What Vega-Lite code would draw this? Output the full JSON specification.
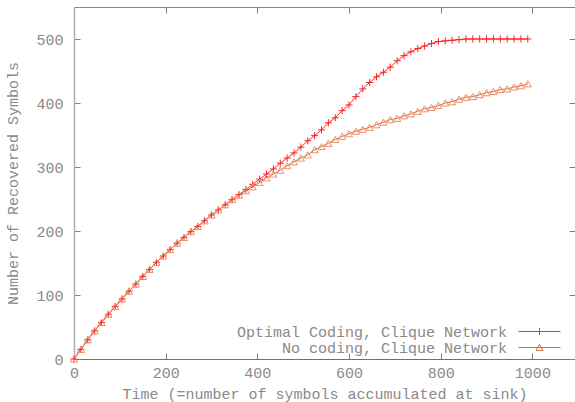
{
  "$schema": "https://vega.github.io/schema/vega-lite/v6.json",
  "width": 501,
  "height": 352,
  "autosize": "none",
  "padding": {"left": 74, "top": 7, "right": 0, "bottom": 43},
  "background": "white",
  "config": {
    "view": {"stroke": null},
    "font": "Liberation Mono",
    "axis": {
      "grid": false,
      "labelFont": "Liberation Mono",
      "labelFontSize": 15,
      "labelColor": "#8a8a8a",
      "titleFont": "Liberation Mono",
      "titleFontSize": 15,
      "titleFontWeight": "normal",
      "titleColor": "#8a8a8a",
      "tickColor": "#808080",
      "labelFlush": false,
      "labelOverlap": false
    }
  },
  "data": {
    "values": [
      {"t": 0, "n": 0, "s": "Optimal Coding, Clique Network"},
      {"t": 15, "n": 15, "s": "Optimal Coding, Clique Network"},
      {"t": 30, "n": 30, "s": "Optimal Coding, Clique Network"},
      {"t": 45, "n": 44, "s": "Optimal Coding, Clique Network"},
      {"t": 60, "n": 57, "s": "Optimal Coding, Clique Network"},
      {"t": 75, "n": 70, "s": "Optimal Coding, Clique Network"},
      {"t": 90, "n": 82, "s": "Optimal Coding, Clique Network"},
      {"t": 105, "n": 94, "s": "Optimal Coding, Clique Network"},
      {"t": 120, "n": 106, "s": "Optimal Coding, Clique Network"},
      {"t": 135, "n": 117, "s": "Optimal Coding, Clique Network"},
      {"t": 150, "n": 129, "s": "Optimal Coding, Clique Network"},
      {"t": 165, "n": 140, "s": "Optimal Coding, Clique Network"},
      {"t": 180, "n": 151, "s": "Optimal Coding, Clique Network"},
      {"t": 195, "n": 161, "s": "Optimal Coding, Clique Network"},
      {"t": 210, "n": 171, "s": "Optimal Coding, Clique Network"},
      {"t": 225, "n": 181, "s": "Optimal Coding, Clique Network"},
      {"t": 240, "n": 190, "s": "Optimal Coding, Clique Network"},
      {"t": 255, "n": 199, "s": "Optimal Coding, Clique Network"},
      {"t": 270, "n": 207, "s": "Optimal Coding, Clique Network"},
      {"t": 285, "n": 216, "s": "Optimal Coding, Clique Network"},
      {"t": 300, "n": 225, "s": "Optimal Coding, Clique Network"},
      {"t": 315, "n": 233, "s": "Optimal Coding, Clique Network"},
      {"t": 330, "n": 241, "s": "Optimal Coding, Clique Network"},
      {"t": 345, "n": 249, "s": "Optimal Coding, Clique Network"},
      {"t": 360, "n": 257, "s": "Optimal Coding, Clique Network"},
      {"t": 375, "n": 265, "s": "Optimal Coding, Clique Network"},
      {"t": 390, "n": 273, "s": "Optimal Coding, Clique Network"},
      {"t": 405, "n": 281, "s": "Optimal Coding, Clique Network"},
      {"t": 420, "n": 289, "s": "Optimal Coding, Clique Network"},
      {"t": 435, "n": 297, "s": "Optimal Coding, Clique Network"},
      {"t": 450, "n": 306, "s": "Optimal Coding, Clique Network"},
      {"t": 465, "n": 314, "s": "Optimal Coding, Clique Network"},
      {"t": 480, "n": 322, "s": "Optimal Coding, Clique Network"},
      {"t": 495, "n": 331, "s": "Optimal Coding, Clique Network"},
      {"t": 510, "n": 341, "s": "Optimal Coding, Clique Network"},
      {"t": 525, "n": 349, "s": "Optimal Coding, Clique Network"},
      {"t": 540, "n": 358, "s": "Optimal Coding, Clique Network"},
      {"t": 555, "n": 369, "s": "Optimal Coding, Clique Network"},
      {"t": 570, "n": 377, "s": "Optimal Coding, Clique Network"},
      {"t": 585, "n": 388, "s": "Optimal Coding, Clique Network"},
      {"t": 600, "n": 397, "s": "Optimal Coding, Clique Network"},
      {"t": 615, "n": 410, "s": "Optimal Coding, Clique Network"},
      {"t": 630, "n": 422, "s": "Optimal Coding, Clique Network"},
      {"t": 645, "n": 432, "s": "Optimal Coding, Clique Network"},
      {"t": 660, "n": 441, "s": "Optimal Coding, Clique Network"},
      {"t": 675, "n": 448, "s": "Optimal Coding, Clique Network"},
      {"t": 690, "n": 456, "s": "Optimal Coding, Clique Network"},
      {"t": 705, "n": 466, "s": "Optimal Coding, Clique Network"},
      {"t": 720, "n": 474, "s": "Optimal Coding, Clique Network"},
      {"t": 735, "n": 480, "s": "Optimal Coding, Clique Network"},
      {"t": 750, "n": 485, "s": "Optimal Coding, Clique Network"},
      {"t": 765, "n": 489, "s": "Optimal Coding, Clique Network"},
      {"t": 780, "n": 493, "s": "Optimal Coding, Clique Network"},
      {"t": 795, "n": 496, "s": "Optimal Coding, Clique Network"},
      {"t": 810, "n": 497, "s": "Optimal Coding, Clique Network"},
      {"t": 825, "n": 498, "s": "Optimal Coding, Clique Network"},
      {"t": 840, "n": 499, "s": "Optimal Coding, Clique Network"},
      {"t": 855, "n": 500, "s": "Optimal Coding, Clique Network"},
      {"t": 870, "n": 500, "s": "Optimal Coding, Clique Network"},
      {"t": 885, "n": 500, "s": "Optimal Coding, Clique Network"},
      {"t": 900, "n": 500, "s": "Optimal Coding, Clique Network"},
      {"t": 915, "n": 500, "s": "Optimal Coding, Clique Network"},
      {"t": 930, "n": 500, "s": "Optimal Coding, Clique Network"},
      {"t": 945, "n": 500, "s": "Optimal Coding, Clique Network"},
      {"t": 960, "n": 500, "s": "Optimal Coding, Clique Network"},
      {"t": 975, "n": 500, "s": "Optimal Coding, Clique Network"},
      {"t": 990, "n": 500, "s": "Optimal Coding, Clique Network"},
      {"t": 0, "n": 0, "s": "No coding, Clique Network"},
      {"t": 15, "n": 15, "s": "No coding, Clique Network"},
      {"t": 30, "n": 30, "s": "No coding, Clique Network"},
      {"t": 45, "n": 44, "s": "No coding, Clique Network"},
      {"t": 60, "n": 57, "s": "No coding, Clique Network"},
      {"t": 75, "n": 70, "s": "No coding, Clique Network"},
      {"t": 90, "n": 82, "s": "No coding, Clique Network"},
      {"t": 105, "n": 94, "s": "No coding, Clique Network"},
      {"t": 120, "n": 106, "s": "No coding, Clique Network"},
      {"t": 135, "n": 117, "s": "No coding, Clique Network"},
      {"t": 150, "n": 129, "s": "No coding, Clique Network"},
      {"t": 165, "n": 140, "s": "No coding, Clique Network"},
      {"t": 180, "n": 151, "s": "No coding, Clique Network"},
      {"t": 195, "n": 161, "s": "No coding, Clique Network"},
      {"t": 210, "n": 171, "s": "No coding, Clique Network"},
      {"t": 225, "n": 181, "s": "No coding, Clique Network"},
      {"t": 240, "n": 190, "s": "No coding, Clique Network"},
      {"t": 255, "n": 199, "s": "No coding, Clique Network"},
      {"t": 270, "n": 207, "s": "No coding, Clique Network"},
      {"t": 285, "n": 216, "s": "No coding, Clique Network"},
      {"t": 300, "n": 225, "s": "No coding, Clique Network"},
      {"t": 315, "n": 233, "s": "No coding, Clique Network"},
      {"t": 330, "n": 241, "s": "No coding, Clique Network"},
      {"t": 345, "n": 249, "s": "No coding, Clique Network"},
      {"t": 360, "n": 256, "s": "No coding, Clique Network"},
      {"t": 375, "n": 263, "s": "No coding, Clique Network"},
      {"t": 390, "n": 269, "s": "No coding, Clique Network"},
      {"t": 405, "n": 276, "s": "No coding, Clique Network"},
      {"t": 420, "n": 283, "s": "No coding, Clique Network"},
      {"t": 435, "n": 289, "s": "No coding, Clique Network"},
      {"t": 450, "n": 295, "s": "No coding, Clique Network"},
      {"t": 465, "n": 302, "s": "No coding, Clique Network"},
      {"t": 480, "n": 308, "s": "No coding, Clique Network"},
      {"t": 495, "n": 314, "s": "No coding, Clique Network"},
      {"t": 510, "n": 319, "s": "No coding, Clique Network"},
      {"t": 525, "n": 327, "s": "No coding, Clique Network"},
      {"t": 540, "n": 332, "s": "No coding, Clique Network"},
      {"t": 555, "n": 337, "s": "No coding, Clique Network"},
      {"t": 570, "n": 343, "s": "No coding, Clique Network"},
      {"t": 585, "n": 348, "s": "No coding, Clique Network"},
      {"t": 600, "n": 352, "s": "No coding, Clique Network"},
      {"t": 615, "n": 356, "s": "No coding, Clique Network"},
      {"t": 630, "n": 359, "s": "No coding, Clique Network"},
      {"t": 645, "n": 362, "s": "No coding, Clique Network"},
      {"t": 660, "n": 366, "s": "No coding, Clique Network"},
      {"t": 675, "n": 370, "s": "No coding, Clique Network"},
      {"t": 690, "n": 374, "s": "No coding, Clique Network"},
      {"t": 705, "n": 376, "s": "No coding, Clique Network"},
      {"t": 720, "n": 380, "s": "No coding, Clique Network"},
      {"t": 735, "n": 383, "s": "No coding, Clique Network"},
      {"t": 750, "n": 387, "s": "No coding, Clique Network"},
      {"t": 765, "n": 391, "s": "No coding, Clique Network"},
      {"t": 780, "n": 393, "s": "No coding, Clique Network"},
      {"t": 795, "n": 396, "s": "No coding, Clique Network"},
      {"t": 810, "n": 400, "s": "No coding, Clique Network"},
      {"t": 825, "n": 402, "s": "No coding, Clique Network"},
      {"t": 840, "n": 406, "s": "No coding, Clique Network"},
      {"t": 855, "n": 409, "s": "No coding, Clique Network"},
      {"t": 870, "n": 410, "s": "No coding, Clique Network"},
      {"t": 885, "n": 413, "s": "No coding, Clique Network"},
      {"t": 900, "n": 416, "s": "No coding, Clique Network"},
      {"t": 915, "n": 418, "s": "No coding, Clique Network"},
      {"t": 930, "n": 421, "s": "No coding, Clique Network"},
      {"t": 945, "n": 422, "s": "No coding, Clique Network"},
      {"t": 960, "n": 425, "s": "No coding, Clique Network"},
      {"t": 975, "n": 427, "s": "No coding, Clique Network"},
      {"t": 990, "n": 430, "s": "No coding, Clique Network"}
    ]
  },
  "resolve": {"scale": {"x": "independent", "y": "independent"}},
  "layer": [
    {
      "mark": {"type": "line", "strokeWidth": 1, "clip": false},
      "encoding": {
        "x": {
          "field": "t", "type": "quantitative",
          "scale": {"domain": [0, 1093], "nice": false, "zero": false},
          "axis": {
            "orient": "bottom",
            "values": [0, 200, 400, 600, 800, 1000],
            "format": "d",
            "title": "Time (=number of symbols accumulated at sink)",
            "tickSize": -6,
            "labelPadding": 12,
            "labelDx": 3,
            "domainColor": "#707070",
            "titleY": 39,
            "titleBaseline": "alphabetic"
          }
        },
        "y": {
          "field": "n", "type": "quantitative",
          "scale": {"domain": [0, 550], "nice": false, "zero": false},
          "axis": {
            "orient": "left",
            "values": [0, 100, 200, 300, 400, 500],
            "title": "Number of Recovered Symbols",
            "tickSize": -6,
            "labelPadding": 17,
            "domainColor": "#b0b0b0",
            "domainWidth": 1.5,
            "titleAngle": -90,
            "titleX": -57,
            "titleY": 176,
            "titleAlign": "center",
            "titleBaseline": "alphabetic"
          }
        },
        "color": {
          "field": "s", "type": "nominal",
          "scale": {
            "domain": ["Optimal Coding, Clique Network", "No coding, Clique Network"],
            "range": ["#ff2e2e", "#dc6a3c"]
          },
          "legend": {
            "orient": "none",
            "legendX": 458,
            "legendY": 317,
            "title": null,
            "padding": 0,
            "labelFont": "Liberation Mono",
            "labelFontSize": 15,
            "labelColor": "#8a8a8a",
            "labelAlign": "right",
            "labelOffset": -40,
            "labelLimit": 0,
            "symbolSize": 49,
            "symbolStrokeWidth": 1,
            "rowPadding": -8,
            "encode": {
              "symbols": {
                "update": {
                  "shape": {"signal": "datum.value === 'No coding, Clique Network' ? 'M-6,0H6M-1,0.85L0,-0.9L1,0.85Z' : 'M-6,0H6M0,-1V1'"},
                  "stroke": {"signal": "datum.value === 'No coding, Clique Network' ? '#eeae8c' : '#f26464'"},
                  "strokeOpacity": {"value": 1},
                  "opacity": {"value": 1},
                  "fill": {"value": "transparent"}
                }
              }
            }
          }
        }
      }
    },
    {
      "transform": [{"filter": "datum.s === 'Optimal Coding, Clique Network'"}],
      "mark": {"type": "point", "shape": "M-1,0H1M0,-1V1", "filled": false, "strokeWidth": 1, "size": 50, "opacity": 1, "color": "#ff2020", "clip": false},
      "encoding": {
        "x": {
          "field": "t", "type": "quantitative",
          "scale": {"domain": [0, 1093], "nice": false, "zero": false},
          "axis": {
            "orient": "top",
            "values": [0, 200, 400, 600, 800, 1000],
            "labels": false,
            "title": null,
            "tickSize": -6,
            "domainColor": "#888888"
          }
        },
        "y": {
          "field": "n", "type": "quantitative",
          "scale": {"domain": [0, 550], "nice": false, "zero": false},
          "axis": {
            "orient": "right",
            "values": [0, 100, 200, 300, 400, 500],
            "labels": false,
            "title": null,
            "tickSize": -6,
            "domain": false
          }
        }
      }
    },
    {
      "transform": [{"filter": "datum.s === 'No coding, Clique Network'"}],
      "mark": {"type": "point", "shape": "triangle-up", "filled": false, "strokeWidth": 1, "size": 50, "opacity": 1, "color": "#e8906a", "clip": false},
      "encoding": {
        "x": {
          "field": "t", "type": "quantitative",
          "scale": {"domain": [0, 1093], "nice": false, "zero": false},
          "axis": null
        },
        "y": {
          "field": "n", "type": "quantitative",
          "scale": {"domain": [0, 550], "nice": false, "zero": false},
          "axis": null
        }
      }
    }
  ]
}
